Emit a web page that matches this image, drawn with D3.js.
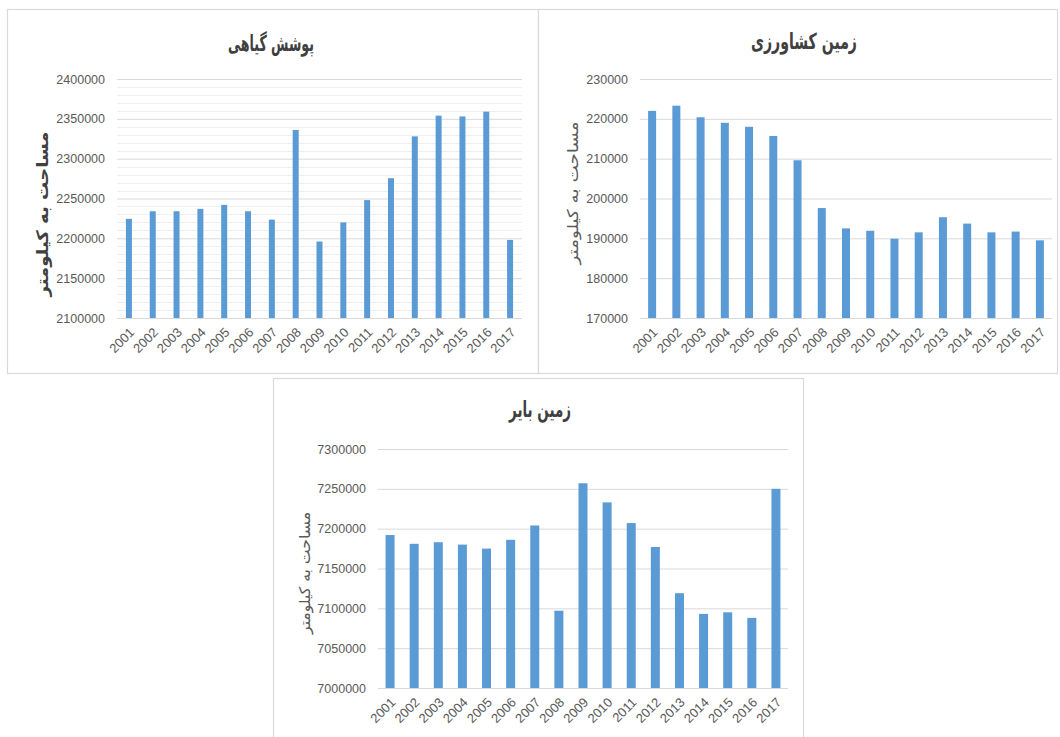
<!DOCTYPE html>
<html>
<head>
<meta charset="utf-8">
<script src="https://cdn.jsdelivr.net/npm/d3@7"></script>
<style>
  body { margin: 0; background: #fff; }
</style>
</head>
<body>
<svg id="chart" width="1060" height="737"></svg>
<script>
var years = [2001, 2002, 2003, 2004, 2005, 2006, 2007, 2008, 2009, 2010, 2011, 2012, 2013, 2014, 2015, 2016, 2017];

// vegetation cover (km2)
var vegetation = [2224500, 2234000, 2234000, 2237000, 2242000, 2234000, 2223500, 2336000, 2196000, 2220000,
                  2248000, 2275500, 2328000, 2354000, 2353000, 2359000, 2198000];
// agricultural land (km2)
var agriculture = [222000, 223300, 220400, 219000, 218000, 215700, 209600, 197600, 192500, 191900,
                   189900, 191500, 195300, 193700, 191500, 191700, 189500];
// barren land (km2)
var barren = [7192000, 7181000, 7183000, 7180000, 7175000, 7186000, 7204000, 7097000, 7257000, 7233000,
              7207000, 7177000, 7119000, 7093000, 7095000, 7088000, 7250000];

var titles = ['پوشش گیاهی', 'زمین کشاورزی', 'زمین بایر'];
var yLabel = 'مساحت به کیلومتر';

var vegTicks = [2100000, 2150000, 2200000, 2250000, 2300000, 2350000, 2400000];
var agrTicks = [170000, 180000, 190000, 200000, 210000, 220000, 230000];
var barTicks = [7000000, 7050000, 7100000, 7150000, 7200000, 7250000, 7300000];

var svg = d3.select('#chart');

var panels = [
  {values: vegetation, ticks: vegTicks, title: titles[0], box: [7, 9, 531, 364],
   plot: [117, 522, 79, 318], titleX: 271, titleY: 51, titleW: 86,
   labelX: 42, labelY: 214, labelW: 165, bold: true, minor: 10000, barW: 6},
  {values: agriculture, ticks: agrTicks, title: titles[1], box: [538, 9, 519, 364],
   plot: [640, 1052, 79, 318], titleX: 804, titleY: 49, titleW: 106,
   labelX: 573, labelY: 193, labelW: 143, bold: false, minor: 0, barW: 8},
  {values: barren, ticks: barTicks, title: titles[2], box: [273, 378, 530, 370],
   plot: [378, 788, 449, 688], titleX: 540, titleY: 417, titleW: 62,
   labelX: 305, labelY: 573, labelW: 122, bold: false, minor: 0, barW: 9}
];

panels.forEach(function(p) {
  var g = svg.append('g');

  g.append('rect')
    .attr('x', p.box[0] + 0.5).attr('y', p.box[1] + 0.5)
    .attr('width', p.box[2]).attr('height', p.box[3])
    .attr('fill', '#fff')
    .attr('stroke', '#d9d9d9')
    .attr('stroke-width', 1.2);

  var x = d3.scaleBand().domain(years).range([p.plot[0], p.plot[1]]);
  var ext = d3.extent(p.ticks);
  var y = d3.scaleLinear().domain(ext).range([p.plot[3], p.plot[2]]);

  // minor gridlines
  if (p.minor) {
    g.selectAll('.minor')
      .data(d3.range(ext[0], ext[1], p.minor).filter(function(v) { return v % 50000 != 0; }))
      .enter().append('line')
      .attr('x1', p.plot[0]).attr('x2', p.plot[1])
      .attr('y1', function(d) { return Math.round(y(d)) + 0.5; })
      .attr('y2', function(d) { return Math.round(y(d)) + 0.5; })
      .attr('stroke', '#efefef');
  }

  // major gridlines + tick labels
  var axis = g.append('g')
    .attr('transform', 'translate(' + p.plot[0] + ',0)')
    .call(d3.axisLeft(y).tickValues(p.ticks).tickSize(-(p.plot[1] - p.plot[0])).tickPadding(12).tickFormat(d3.format('d')));
  axis.select('.domain').remove();
  axis.selectAll('.tick line').attr('stroke', '#d9d9d9');
  axis.selectAll('.tick text')
    .attr('fill', '#595959')
    .style('font-family', 'Liberation Sans, Arial, sans-serif')
    .style('font-size', '12.5px');

  // bars
  g.selectAll('.bar')
    .data(p.values)
    .enter().append('rect')
    .attr('x', function(d, i) { return x(years[i]) + x.bandwidth() / 2 - p.barW / 2; })
    .attr('y', function(d) { return y(d); })
    .attr('width', p.barW)
    .attr('height', function(d) { return y(ext[0]) - y(d); })
    .attr('fill', '#5b9bd5');

  // year labels
  g.selectAll('.yr')
    .data(years)
    .enter().append('text')
    .attr('transform', function(d) {
      return 'translate(' + (x(d) + x.bandwidth() / 2 + 3) + ',' + (p.plot[3] + 12) + ') rotate(-45)';
    })
    .attr('text-anchor', 'end')
    .attr('dy', '0.35em')
    .attr('fill', '#595959')
    .style('font-family', 'Liberation Sans, Arial, sans-serif')
    .style('font-size', '13px')
    .text(function(d) { return d; });

  // title
  g.append('text')
    .attr('x', p.titleX).attr('y', p.titleY)
    .attr('text-anchor', 'middle')
    .attr('fill', '#404040')
    .attr('textLength', p.titleW)
    .attr('lengthAdjust', 'spacingAndGlyphs')
    .style('font-family', 'DejaVu Sans, sans-serif')
    .style('font-size', '22px')
    .style('font-weight', 'bold')
    .text(p.title);

  // y-axis label
  g.append('text')
    .attr('transform', 'translate(' + p.labelX + ',' + p.labelY + ') rotate(-90)')
    .attr('text-anchor', 'middle')
    .attr('dy', '0.35em')
    .attr('fill', p.bold ? '#404040' : '#595959')
    .attr('textLength', p.labelW)
    .attr('lengthAdjust', 'spacingAndGlyphs')
    .style('font-family', 'DejaVu Sans, sans-serif')
    .style('font-size', p.bold ? '16px' : '15px')
    .style('font-weight', p.bold ? 'bold' : 'normal')
    .text(yLabel);
});
</script>
</body>
</html>
